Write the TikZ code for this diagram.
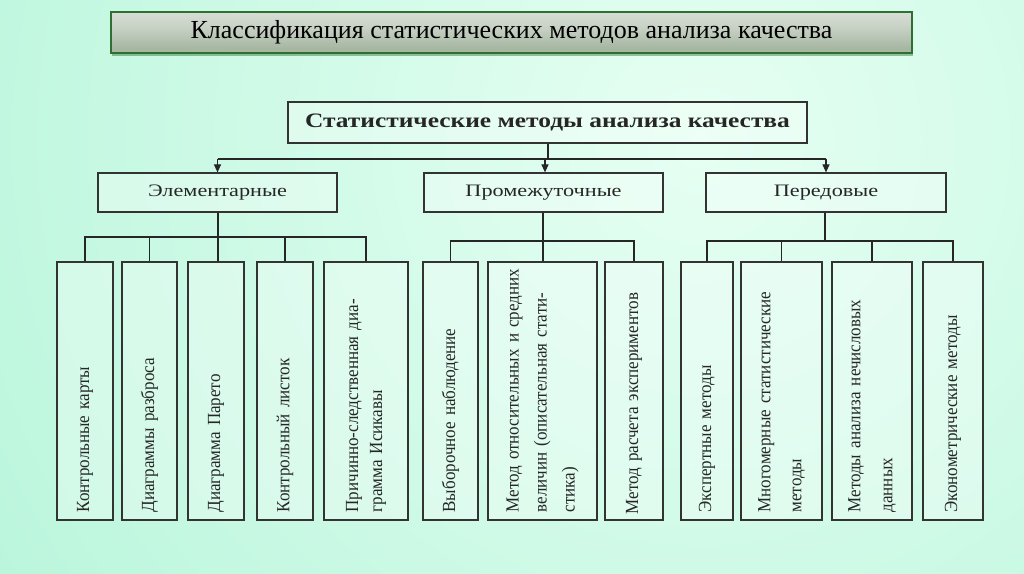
\documentclass[tikz,border=0pt]{standalone}
\usepackage{fontspec}
\setmainfont{Liberation Serif}
\newfontfamily\wideserif[FakeStretch=1.24]{Liberation Serif}
\newfontfamily\levelserif[FakeStretch=1.27]{Liberation Serif}
\newfontfamily\leafserif[FakeStretch=0.92]{Liberation Serif}
\usetikzlibrary{arrows.meta,shadows}
\definecolor{bgA}{HTML}{A9F2D3}
\definecolor{bgB}{HTML}{E6FFF3}
\definecolor{tborder}{HTML}{2F6F33}
\definecolor{tc0}{HTML}{ECF0EA}
\definecolor{tc1}{HTML}{C6D0C3}
\definecolor{tc2}{HTML}{A5B6A1}
\definecolor{tc3}{HTML}{BAC7B6}
\pgfdeclareverticalshading{titleshade}{100bp}{color(0bp)=(tc3); color(30bp)=(tc2); color(55bp)=(tc1); color(100bp)=(tc0)}
\tikzset{
  box/.style={draw=black!80, line width=1.2bp, fill=white, fill opacity=0.3, text opacity=1, inner sep=0pt, text=black!85},
  leafbox/.style={box, minimum height=258bp},
  levelbox/.style={box, minimum height=39bp, font=\levelserif\fontsize{17.5bp}{20bp}\selectfont},
  leaftext/.style={rotate=90, anchor=west, inner sep=0pt, align=left, text=black!85, text width=250bp, font=\leafserif\fontsize{18.5bp}{24bp}\selectfont},
  conn/.style={draw=black!85, line width=1.2bp},
  arr/.style={conn, -{Triangle[width=7bp,length=8bp]}},
}
\begin{document}
\begin{tikzpicture}[x=1bp,y=-1bp]
\useasboundingbox (0,0) rectangle (1024,574);
\begin{scope}
  \clip (0,0) rectangle (1024,574);
  \fill[bgA] (0,0) rectangle (1024,574);
  \shade[inner color=bgB, outer color=bgA] (700,140) circle[radius=1150bp];
\end{scope}

% title
\node[draw=tborder, line width=1.5bp, shading=titleshade, minimum width=801bp, minimum height=41bp, inner sep=0pt,
      drop shadow={shadow xshift=1bp, shadow yshift=-3bp, opacity=0.35, fill=black!70!green}]
  (title) at (511.5,32.5) {\fontsize{26bp}{28bp}\selectfont Классификация статистических методов анализа качества};

% main box
\node[box, minimum width=519bp, minimum height=41bp, font=\wideserif\bfseries\fontsize{20.5bp}{24bp}\selectfont]
  (main) at (547.5,122.5) {Статистические методы анализа качества};

% level boxes
\node[levelbox, minimum width=239bp] (elem) at (217.5,192.5) {Элементарные};
\node[levelbox, minimum width=239bp] (prom) at (543.5,192.5) {Промежуточные};
\node[levelbox, minimum width=240bp] (pered) at (826,192.5) {Передовые};

% top connectors
\coordinate (hbar) at (548,159);
\draw[conn, line width=2.4bp] (main.south -| hbar) -- (hbar);
\draw[conn] (elem.north |- hbar) -- (pered.north |- hbar);
\draw[arr] (elem.north |- hbar) -- (elem.north);
\draw[arr] ([xshift=1.5bp]prom.north |- hbar) -- ([xshift=1.5bp]prom.north);
\draw[arr] (pered.north |- hbar) -- (pered.north);

% leaf boxes
\node[leafbox, minimum width=56bp] (l1) at (85,391) {};
\node[leafbox, minimum width=55bp] (l2) at (149.5,391) {};
\node[leafbox, minimum width=56bp] (l3) at (216,391) {};
\node[leafbox, minimum width=56bp] (l4) at (285,391) {};
\node[leafbox, minimum width=84bp] (l5) at (366,391) {};
\node[leafbox, minimum width=55bp] (l6) at (450.5,391) {};
\node[leafbox, minimum width=109bp] (l7) at (542.5,391) {};
\node[leafbox, minimum width=58bp] (l8) at (634,391) {};
\node[leafbox, minimum width=52bp] (l9) at (707,391) {};
\node[leafbox, minimum width=81bp] (l10) at (781.5,391) {};
\node[leafbox, minimum width=80bp] (l11) at (872,391) {};
\node[leafbox, minimum width=60bp] (l12) at (953,391) {};

% leaf texts
\node[leaftext] (t1) at ([yshift=8bp]l1.south) {Контрольные карты};
\node[leaftext] (t2) at ([yshift=8bp]l2.south) {Диаграммы разброса};
\node[leaftext] (t3) at ([yshift=8bp]l3.south) {Диаграмма Парето};
\node[leaftext] (t4) at ([yshift=8bp]l4.south) {Контрольный листок};
\node[leaftext] (t5) at ([yshift=8bp]l5.south) {Причинно-следственная диа-\\грамма Исикавы};
\node[leaftext] (t6) at ([yshift=8bp]l6.south) {Выборочное наблюдение};
\node[leaftext, font=\leafserif\fontsize{18.5bp}{28bp}\selectfont] (t7) at ([yshift=8bp]l7.south) {Метод относительных и средних\\величин (описательная стати-\\стика)};
\node[leaftext] (t8) at ([yshift=6bp]l8.south) {Метод расчета экспериментов};
\node[leaftext] (t9) at ([yshift=8bp]l9.south) {Экспертные методы};
\node[leaftext, font=\leafserif\fontsize{18.5bp}{31bp}\selectfont] (t10) at ([yshift=8bp]l10.south) {Многомерные статистические\\методы};
\node[leaftext, font=\leafserif\fontsize{18.5bp}{32bp}\selectfont] (t11) at ([yshift=8bp]l11.south) {Методы анализа нечисловых\\данных};
\node[leaftext] (t12) at ([yshift=8bp]l12.south) {Эконометрические методы};

% brackets
\coordinate (eb) at (218,237);
\coordinate (pb) at (543,241);
\coordinate (rb) at (825,241);
\draw[conn] (elem.south -| eb) -- (eb);
\draw[conn] (l1.north) |- (eb) -| (l5.north);
\draw[conn] (l2.north) -- (l2.north |- eb);
\draw[conn] (l3.north -| eb) -- (eb);
\draw[conn] (l4.north) -- (l4.north |- eb);
\draw[conn] (prom.south -| pb) -- (pb);
\draw[conn] (l6.north) |- (pb) -| (l8.north);
\draw[conn] (l7.north -| pb) -- (pb);
\draw[conn] (pered.south -| rb) -- (rb);
\draw[conn] (l9.north) |- (rb) -| (l12.north);
\draw[conn] (l10.north) -- (l10.north |- rb);
\draw[conn] (l11.north) -- (l11.north |- rb);
\end{tikzpicture}
\end{document}
